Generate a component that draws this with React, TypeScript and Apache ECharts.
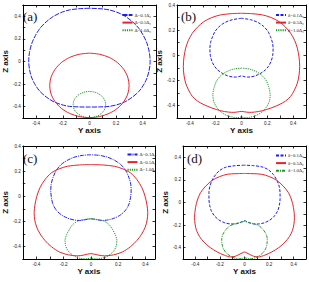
import React, { useEffect, useRef } from "react";
import * as echarts from "echarts";

type P = [number, number];

// Left halves (x <= 0) of each closed curve, from top point to bottom point.
const A_BLUE: P[] = [[0,0.471],[-0.08,0.467],[-0.151,0.456],[-0.215,0.432],[-0.273,0.397],[-0.325,0.35],[-0.371,0.294],[-0.405,0.23],[-0.432,0.162],[-0.45,0.08],[-0.456,0],[-0.449,-0.075],[-0.432,-0.147],[-0.405,-0.21],[-0.371,-0.265],[-0.325,-0.313],[-0.273,-0.353],[-0.215,-0.38],[-0.151,-0.397],[-0.075,-0.402],[0,-0.403]];
const A_RED: P[] = [[0,0.074],[-0.077,0.064],[-0.149,0.036],[-0.211,-0.01],[-0.258,-0.07],[-0.288,-0.139],[-0.298,-0.213],[-0.288,-0.287],[-0.258,-0.355],[-0.211,-0.414],[-0.149,-0.459],[-0.077,-0.487],[0,-0.497]];
const A_GREEN: P[] = [[0,-0.265],[-0.032,-0.269],[-0.061,-0.281],[-0.086,-0.299],[-0.106,-0.324],[-0.118,-0.352],[-0.122,-0.382],[-0.118,-0.412],[-0.106,-0.44],[-0.086,-0.463],[-0.061,-0.482],[-0.032,-0.493],[0,-0.497]];

const B_BLUE: P[] = [[0,0.294],[-0.07,0.283],[-0.13,0.26],[-0.173,0.228],[-0.205,0.19],[-0.224,0.149],[-0.24,0.1],[-0.245,0.056],[-0.242,0],[-0.229,-0.05],[-0.21,-0.087],[-0.186,-0.116],[-0.15,-0.143],[-0.108,-0.164],[-0.07,-0.173],[-0.044,-0.174],[-0.02,-0.17],[0,-0.164]];
const B_RED: P[] = [[0,0.334],[-0.08,0.331],[-0.162,0.321],[-0.23,0.3],[-0.291,0.268],[-0.34,0.225],[-0.381,0.175],[-0.412,0.118],[-0.433,0.056],[-0.446,-0.015],[-0.451,-0.09],[-0.446,-0.158],[-0.433,-0.222],[-0.41,-0.278],[-0.381,-0.328],[-0.34,-0.366],[-0.291,-0.394],[-0.23,-0.42],[-0.162,-0.442],[-0.1,-0.453],[-0.059,-0.455],[-0.025,-0.451],[0,-0.447]];
const B_GREEN: P[] = [[0,-0.103],[-0.06,-0.11],[-0.111,-0.129],[-0.155,-0.158],[-0.188,-0.196],[-0.21,-0.25],[-0.222,-0.315],[-0.215,-0.37],[-0.188,-0.421],[-0.155,-0.455],[-0.111,-0.481],[-0.06,-0.495],[-0.034,-0.498],[0,-0.492]];

const C_BLUE: P[] = [[0,0.33],[-0.065,0.325],[-0.124,0.31],[-0.175,0.285],[-0.219,0.252],[-0.255,0.205],[-0.279,0.147],[-0.292,0.095],[-0.295,0.042],[-0.29,-0.012],[-0.279,-0.063],[-0.255,-0.11],[-0.219,-0.147],[-0.175,-0.173],[-0.124,-0.189],[-0.085,-0.193],[-0.052,-0.189],[-0.025,-0.183],[0,-0.18]];
const C_RED: P[] = [[0,0.252],[-0.085,0.249],[-0.171,0.239],[-0.235,0.217],[-0.29,0.186],[-0.337,0.133],[-0.374,0.068],[-0.397,0],[-0.41,-0.063],[-0.417,-0.129],[-0.412,-0.19],[-0.398,-0.247],[-0.372,-0.302],[-0.338,-0.352],[-0.29,-0.402],[-0.231,-0.444],[-0.165,-0.467],[-0.1,-0.475],[-0.05,-0.468],[0,-0.457]];
const C_GREEN: P[] = [[0,-0.18],[-0.05,-0.186],[-0.1,-0.2],[-0.135,-0.228],[-0.16,-0.268],[-0.18,-0.31],[-0.19,-0.352],[-0.186,-0.393],[-0.171,-0.43],[-0.145,-0.46],[-0.112,-0.483],[-0.075,-0.495],[-0.04,-0.499],[0,-0.493]];

const D_BLUE: P[] = [[0,0.33],[-0.075,0.326],[-0.153,0.312],[-0.2,0.285],[-0.234,0.248],[-0.262,0.2],[-0.281,0.146],[-0.289,0.088],[-0.289,0.029],[-0.283,-0.025],[-0.27,-0.073],[-0.243,-0.12],[-0.207,-0.155],[-0.16,-0.18],[-0.112,-0.19],[-0.075,-0.19],[-0.044,-0.181],[-0.02,-0.17],[0,-0.16]];
const D_RED: P[] = [[0,0.257],[-0.07,0.255],[-0.139,0.25],[-0.205,0.228],[-0.262,0.196],[-0.315,0.145],[-0.357,0.088],[-0.383,0.022],[-0.398,-0.044],[-0.406,-0.131],[-0.402,-0.19],[-0.39,-0.248],[-0.365,-0.302],[-0.33,-0.35],[-0.28,-0.398],[-0.221,-0.438],[-0.165,-0.466],[-0.112,-0.482],[-0.075,-0.476],[-0.044,-0.46],[-0.02,-0.447],[0,-0.438]];
const D_GREEN: P[] = [[0,-0.165],[-0.035,-0.178],[-0.084,-0.19],[-0.125,-0.212],[-0.153,-0.242],[-0.175,-0.28],[-0.185,-0.321],[-0.183,-0.366],[-0.172,-0.409],[-0.147,-0.448],[-0.112,-0.476],[-0.078,-0.492],[-0.044,-0.499],[-0.02,-0.495],[0,-0.488]];

const LEG_BIG = ["Δ=0.1Δ₀", "Δ=0.5Δ₀", "Δ=1.0Δ₀"];
const LEG_SMALL = ["δ=0.1Δ₀", "δ=0.5Δ₀", "δ=1.0Δ₀"];
const PANEL_LETTERS = ["(a)", "(b)", "(c)", "(d)"];

const X_RANGES: P[] = [[-0.5, 0.5], [-0.5, 0.5], [-0.5, 0.47], [-0.5, 0.5]];
const Z_RANGES: P[] = [[-0.5, 0.5], [-0.5, 0.4], [-0.5, 0.4], [-0.5, 0.5]];

const BLUE = "#1c1cf0";
const RED = "#e5242b";
const GREEN = "#1f9a24";

function loop(half: P[]): P[] {
  const right = half.slice(1, -1).reverse().map(([x, z]) => [-x, z] as P);
  return [...half, ...right, half[0]];
}

const GRIDS = [
  { left: 19, top: 5, width: 137, height: 113 },
  { left: 177, top: 5, width: 130, height: 113 },
  { left: 21, top: 146, width: 134, height: 113 },
  { left: 183, top: 146, width: 123, height: 113 },
];

const LEGEND_POS = [
  { left: 121.5, top: 12.5 },
  { left: 275, top: 12.5 },
  { left: 126.5, top: 152 },
  { left: 275, top: 153 },
];

const LETTER_POS = [
  { x: 23, y: 17 },
  { x: 181, y: 17 },
  { x: 23, y: 159 },
  { x: 187, y: 159 },
];

const fmt = (v: number) => {
  const k = Math.round(v * 10);
  if (k % 2 !== 0) return "";
  if (k === 0) return "0";
  return (k / 10).toFixed(1);
};

export default function App() {
  const ref = useRef<HTMLDivElement>(null);
  useEffect(() => {
    if (!ref.current) return;
    const chart = echarts.init(ref.current, undefined, { renderer: "svg" });

    const panels = [
      { curves: [A_BLUE, A_RED, A_GREEN], legend: LEG_BIG, dash: [[5, 1.2], "solid", [1.2, 1]] },
      { curves: [B_BLUE, B_RED, B_GREEN], legend: LEG_SMALL, dash: [[3, 1.5], "solid", [1.2, 1]] },
      { curves: [C_BLUE, C_RED, C_GREEN], legend: LEG_BIG, dash: [[4, 1, 1, 1], "solid", [1.2, 1]] },
      { curves: [D_BLUE, D_RED, D_GREEN], legend: LEG_SMALL, dash: [[3, 1.5], "solid", [3, 1, 1, 1]] },
    ];
    const colors = [BLUE, RED, GREEN];

    const xAxis: any[] = [];
    const yAxis: any[] = [];
    const series: any[] = [];
    const legend: any[] = [];
    const nameMap: Record<string, string> = {};

    const axisLine = { show: true, onZero: false, lineStyle: { color: "#000", width: 1 } };
    const tick = { show: true, inside: true, length: 2.5, lineStyle: { color: "#000", width: 0.8 } };
    const label = { fontSize: 4.6, color: "#222", fontFamily: "Liberation Sans", formatter: fmt };
    const titleStyle = { fontSize: 8, fontWeight: "bold", color: "#111", fontFamily: "Liberation Sans" };

    panels.forEach((p, i) => {
      const [xmin, xmax] = X_RANGES[i];
      const [zmin, zmax] = Z_RANGES[i];
      xAxis.push({
        type: "value", gridIndex: i, min: xmin, max: xmax, interval: 0.1, position: "bottom",
        axisLine, axisTick: tick, splitLine: { show: false },
        axisLabel: { ...label, margin: 2.5 },
        name: "Y axis", nameLocation: "middle", nameGap: 7, nameTextStyle: titleStyle,
      });
      yAxis.push({
        type: "value", gridIndex: i, min: zmin, max: zmax, interval: 0.1, position: "left",
        axisLine, axisTick: tick, splitLine: { show: false },
        axisLabel: { ...label, margin: 2 },
        name: "Z axis", nameLocation: "middle", nameGap: 9, nameRotate: 90, nameTextStyle: titleStyle,
      });
    });
    panels.forEach((p, i) => {
      const [xmin, xmax] = X_RANGES[i];
      const [zmin, zmax] = Z_RANGES[i];
      xAxis.push({
        type: "value", gridIndex: i, min: xmin, max: xmax, interval: 0.1, position: "top",
        axisLine, axisTick: tick, axisLabel: { show: false }, splitLine: { show: false },
      });
      yAxis.push({
        type: "value", gridIndex: i, min: zmin, max: zmax, interval: 0.1, position: "right",
        axisLine, axisTick: tick, axisLabel: { show: false }, splitLine: { show: false },
      });
    });

    panels.forEach((p, i) => {
      const names: string[] = [];
      p.curves.forEach((c, j) => {
        const nm = `s${i}_${j}`;
        names.push(nm);
        nameMap[nm] = p.legend[j];
        series.push({
          name: nm, type: "line", xAxisIndex: i, yAxisIndex: i,
          data: loop(c), smooth: 0.3, symbol: "none", showSymbol: false, clip: true,
          lineStyle: { color: colors[j], width: 1, type: p.dash[j] },
          itemStyle: { color: colors[j] },
        });
      });
      legend.push({
        data: names, orient: "vertical", left: LEGEND_POS[i].left, top: LEGEND_POS[i].top,
        itemWidth: 10, itemHeight: 4, itemGap: 2.6, padding: 0, selectedMode: false,
        icon: "inherit", itemStyle: { opacity: 0 },
        formatter: (n: string) => nameMap[n],
        textStyle: { fontSize: 4.8, color: "#222", fontFamily: "Liberation Serif", padding: [0, 0, 0, -3] },
      });
    });

    chart.setOption({
      animation: false,
      backgroundColor: "#fff",
      grid: GRIDS.map((g) => ({ ...g, containLabel: false })),
      xAxis, yAxis, series, legend,
      graphic: PANEL_LETTERS.map((t, i) => ({
        type: "text", left: LETTER_POS[i].x, top: LETTER_POS[i].y - 7,
        style: { text: t, fontSize: 13, fontFamily: "Liberation Serif", fill: "#111" },
      })),
    });
    return () => chart.dispose();
  }, []);
  return <div ref={ref} style={{ position: "fixed", left: 0, top: 0, width: 309, height: 282, background: "#fff" }} />;
}
